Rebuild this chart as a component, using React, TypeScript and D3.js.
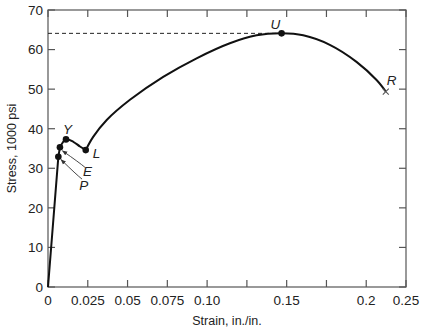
import React, { useEffect, useRef } from 'react';
import * as d3 from 'd3';

// strain (in./in.) and stress (1000 psi)
const elasticStrain = [0, 0.0065, 0.0075];
const elasticStress = [0, 32.9, 35.3];

const yieldStrain = [0.0075, 0.0113, 0.0159, 0.0201, 0.0237];
const yieldStress = [35.3, 37.3, 36.7, 35.5, 34.6];

const hardenStrain = [0.0237, 0.0285, 0.0369, 0.0515, 0.0724, 0.0934, 0.1143, 0.1311, 0.1468, 0.1604, 0.1771, 0.1939, 0.2065, 0.2123];
const hardenStress = [34.6, 38.0, 42.2, 47.3, 53.1, 57.8, 61.6, 63.6, 64.1, 63.6, 61.2, 56.9, 52.3, 49.4];

const pointNames = ['P', 'E', 'Y', 'L', 'U'];
const pointStrain = [0.0065, 0.0075, 0.0113, 0.0237, 0.1468];
const pointStress = [32.9, 35.3, 37.3, 34.6, 64.1];

const ruptureStrain = 0.2123;
const ruptureStress = 49.4;

const xTicks = [0, 0.025, 0.05, 0.075, 0.1, 0.125, 0.15, 0.175, 0.2, 0.225];
const xTickLabels = ['0', '0.025', '0.05', '0.075', '0.10', '', '0.15', '', '0.2', '0.25'];
const yTicks = [0, 10, 20, 30, 40, 50, 60, 70];

const App = () => {
  const svgRef = useRef(null);

  useEffect(() => {
    const margin = { top: 10, right: 17, bottom: 41, left: 48 };
    const width = 423 - margin.left - margin.right;
    const height = 328 - margin.top - margin.bottom;
    const font = 'Liberation Sans, Arial, sans-serif';

    const root = d3.select(svgRef.current);
    root.selectAll('*').remove();
    root.attr('width', 423).attr('height', 328);

    const svg = root.append('g')
      .attr('transform', `translate(${margin.left},${margin.top})`);

    const x = d3.scaleLinear().domain([0, 0.225]).range([0, width]);
    const y = d3.scaleLinear().domain([0, 70]).range([height, 0]);

    const defs = root.append('defs');
    defs.append('marker')
      .attr('id', 'head')
      .attr('viewBox', '0 0 10 10')
      .attr('refX', 9).attr('refY', 5)
      .attr('markerWidth', 6).attr('markerHeight', 6)
      .attr('orient', 'auto')
      .append('path')
      .attr('d', 'M0,1 L10,5 L0,9 Z')
      .attr('fill', '#333');

    // frame
    svg.append('rect')
      .attr('width', width).attr('height', height)
      .attr('fill', 'none').attr('stroke', '#555').attr('stroke-width', 1.2);

    const tl = 7;
    xTicks.forEach((t) => {
      svg.append('line').attr('x1', x(t)).attr('x2', x(t)).attr('y1', height).attr('y2', height - tl)
        .attr('stroke', '#555').attr('stroke-width', 1.2);
      svg.append('line').attr('x1', x(t)).attr('x2', x(t)).attr('y1', 0).attr('y2', tl)
        .attr('stroke', '#555').attr('stroke-width', 1.2);
    });
    yTicks.forEach((t) => {
      svg.append('line').attr('x1', 0).attr('x2', tl).attr('y1', y(t)).attr('y2', y(t))
        .attr('stroke', '#555').attr('stroke-width', 1.2);
      svg.append('line').attr('x1', width).attr('x2', width - tl).attr('y1', y(t)).attr('y2', y(t))
        .attr('stroke', '#555').attr('stroke-width', 1.2);
    });

    svg.selectAll('.xlab')
      .data(xTicks)
      .enter().append('text')
      .attr('x', (d) => x(d))
      .attr('y', height + 18)
      .attr('text-anchor', 'middle')
      .attr('font-family', font).attr('font-size', 13.5).attr('fill', '#222')
      .text((d, i) => xTickLabels[i]);

    svg.selectAll('.ylab')
      .data(yTicks)
      .enter().append('text')
      .attr('x', -5)
      .attr('y', (d) => y(d))
      .attr('dy', '0.36em')
      .attr('text-anchor', 'end')
      .attr('font-family', font).attr('font-size', 13.5).attr('fill', '#222')
      .text((d) => d);

    svg.append('text')
      .attr('x', width / 2)
      .attr('y', height + 38)
      .attr('text-anchor', 'middle')
      .attr('font-family', font).attr('font-size', 12.5).attr('fill', '#222')
      .text('Strain, in./in.');

    svg.append('text')
      .attr('transform', `translate(${-32},${height / 2}) rotate(-90)`)
      .attr('text-anchor', 'middle')
      .attr('font-family', font).attr('font-size', 12.5).attr('fill', '#222')
      .text('Stress, 1000 psi');

    // dashed line to ultimate strength
    svg.append('line')
      .attr('x1', 0).attr('x2', x(pointStrain[4]))
      .attr('y1', y(pointStress[4])).attr('y2', y(pointStress[4]))
      .attr('stroke', '#222').attr('stroke-width', 1).attr('stroke-dasharray', '4,3');

    const straight = d3.line().x((d) => x(d[0])).y((d) => y(d[1]));
    const smooth = d3.line().x((d) => x(d[0])).y((d) => y(d[1])).curve(d3.curveCatmullRom.alpha(0.5));

    const segs = [
      [elasticStrain, elasticStress, straight],
      [yieldStrain, yieldStress, smooth],
      [hardenStrain, hardenStress, smooth],
    ];
    segs.forEach(([xs, ys, gen]) => {
      svg.append('path')
        .datum(xs.map((v, i) => [v, ys[i]]))
        .attr('d', gen)
        .attr('fill', 'none').attr('stroke', '#111').attr('stroke-width', 2)
        .attr('stroke-linejoin', 'round');
    });

    svg.selectAll('.pt')
      .data(pointNames)
      .enter().append('circle')
      .attr('cx', (d, i) => x(pointStrain[i]))
      .attr('cy', (d, i) => y(pointStress[i]))
      .attr('r', 3.3)
      .attr('fill', '#111');

    // rupture cross
    const rx = x(ruptureStrain), ry = y(ruptureStress);
    svg.append('path')
      .attr('d', `M${rx - 3},${ry - 3}L${rx + 3},${ry + 3}M${rx - 3},${ry + 3}L${rx + 3},${ry - 3}`)
      .attr('stroke', '#555').attr('stroke-width', 1.1);

    // point labels
    const labelOffsets = {
      P: [21, 33], E: [23, 29], Y: [-3, -5], L: [7, 8], U: [-11, -4.5],
    };
    pointNames.forEach((n, i) => {
      const [dx, dy] = labelOffsets[n];
      svg.append('text')
        .attr('x', x(pointStrain[i]) + dx)
        .attr('y', y(pointStress[i]) + dy)
        .attr('font-family', font).attr('font-size', 13.5).attr('font-style', 'italic')
        .attr('fill', '#222')
        .text(n);
    });
    svg.append('text')
      .attr('x', rx + 1).attr('y', ry - 7)
      .attr('font-family', font).attr('font-size', 13.5).attr('font-style', 'italic')
      .attr('fill', '#222')
      .text('R');

    // arrows from E and P labels
    const arrow = (i, sx, sy, cx, cy, ex, ey) => {
      const px = x(pointStrain[i]), py = y(pointStress[i]);
      svg.append('path')
        .attr('d', `M${px + sx},${py + sy} Q${px + cx},${py + cy} ${px + ex},${py + ey}`)
        .attr('fill', 'none').attr('stroke', '#333').attr('stroke-width', 0.9)
        .attr('marker-end', 'url(#head)');
    };
    arrow(1, 25, 20, 20, 15.7, 2.5, 3.5);
    arrow(0, 23.7, 22.3, 18.2, 18, 2.7, 2.8);
  }, []);

  return (
    <svg ref={svgRef} style={{ position: 'absolute', left: 0, top: 0 }}></svg>
  );
};

export default App;
